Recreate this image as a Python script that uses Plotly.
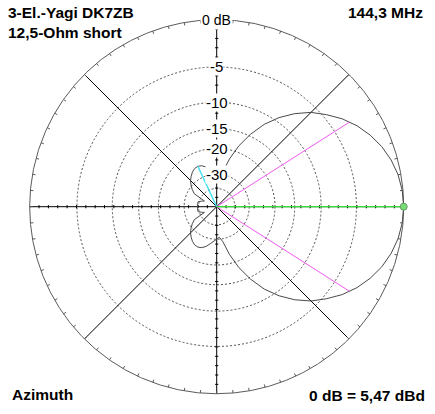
import numpy as np
import plotly.graph_objects as go

# ---------------- data ----------------
title_line1 = "3-El.-Yagi DK7ZB"
title_line2 = "12,5-Ohm short"
freq_label = "144,3 MHz"
plot_type = "Azimuth"
ref_label = "0 dB = 5,47 dBd"

# azimuth pattern (upper half, pattern is symmetric about 0/180 deg)
azimuth_deg = [0, 5, 10, 15, 20, 25, 30, 35, 40, 45, 50, 55, 60, 65, 70, 75, 80, 85,
               90, 95, 100, 105, 110, 115, 120, 125, 130, 135, 140, 145, 150, 155,
               160, 165, 170, 175, 180]
gain_db = [0.0, -0.07, -0.26, -0.6, -1.07, -1.7, -2.47, -3.42, -4.58, -5.8, -7.4, -9.3,
           -11.6, -14.6, -18.2, -22.8, -28.5, -31.0, -30.0, -29.0, -27.5, -26.0, -25.0,
           -24.6, -24.8, -25.5, -26.6, -27.8, -29.5, -31.5, -34.0, -45.0, -42.0, -39.0,
           -39.0, -39.0, -39.0]

ring_db = [-5, -10, -15, -20, -30, -40]
ring_labels = {-5: "-5", -10: "-10", -15: "-15", -20: "-20", -30: "-30"}
top_label = "0 dB"

peak_deg, peak_db = 0, 0.0
halfpower_deg, halfpower_db = 32.5, -3.0
backlobe_deg, backlobe_db = 115, -24.6


def arrl(db):
    """ARRL log scale: 0.89 per 2 dB"""
    return 0.89 ** (-np.asarray(db, dtype=float) / 2.0)


def xy(theta_deg, r):
    t = np.radians(np.asarray(theta_deg, dtype=float))
    r = np.asarray(r, dtype=float)
    return r * np.cos(t), r * np.sin(t)


# ---------------- geometry of the page ----------------
W, H = 435, 414
CX, CY, RPX = 216.7, 206.7, 187.0
GRAY = "#5a5a5a"
FONT = "Liberation Sans, Arial, sans-serif"

fig = go.Figure()

# dotted rings
for db in ring_db:
    r = float(arrl(db))
    fig.add_shape(type="circle", xref="x", yref="y", x0=-r, y0=-r, x1=r, y1=r,
                  line=dict(color="#505050", width=1, dash="2px,2px"), layer="below")

# spokes (diagonals) and main axes
for ang in [45, 135, 225, 315]:
    x1, y1 = xy(ang, 1.0)
    fig.add_trace(go.Scatter(x=[0, x1], y=[0, y1], mode="lines",
                             line=dict(color="black", width=1), hoverinfo="skip"))
fig.add_trace(go.Scatter(x=[-1, 1], y=[0, 0], mode="lines",
                         line=dict(color="black", width=1), hoverinfo="skip"))
fig.add_trace(go.Scatter(x=[0, 0], y=[-1, 1], mode="lines",
                         line=dict(color="black", width=1), hoverinfo="skip"))

# small ticks along the axes (every 5 % of radius)
tick_half = 1.6 / RPX
tx, ty = [], []
for k in range(1, 20):
    r = k * 0.05
    for s in (1, -1):
        tx += [s * r, s * r, None]
        ty += [-tick_half, tick_half, None]
        tx += [-tick_half, tick_half, None]
        ty += [s * r, s * r, None]
fig.add_trace(go.Scatter(x=tx, y=ty, mode="lines", line=dict(color="black", width=1),
                         hoverinfo="skip"))

# outer circle with 5-degree ticks
circ_t = np.linspace(0, 360, 721)
ox, oy = xy(circ_t, 1.0)
fig.add_trace(go.Scatter(x=ox, y=oy, mode="lines", line=dict(color=GRAY, width=1),
                         hoverinfo="skip"))
otx, oty = [], []
for ang in range(0, 360, 5):
    xa, ya = xy(ang, 1.0)
    xb, yb = xy(ang, 1.0 - 3.0 / RPX)
    otx += [float(xa), float(xb), None]
    oty += [float(ya), float(yb), None]
fig.add_trace(go.Scatter(x=otx, y=oty, mode="lines", line=dict(color=GRAY, width=1),
                         hoverinfo="skip"))

# radiation pattern (mirror of upper half)
theta_full = azimuth_deg + [360 - a for a in azimuth_deg[-2:0:-1]] + [azimuth_deg[0]]
gain_full = gain_db + gain_db[-2:0:-1] + [gain_db[0]]
px, py = xy(theta_full, arrl(gain_full))
fig.add_trace(go.Scatter(x=px, y=py, mode="lines", line=dict(color="#4a4a4a", width=1),
                         hoverinfo="skip"))

# half-power lines
for a in (halfpower_deg, -halfpower_deg):
    hx, hy = xy(a, arrl(halfpower_db))
    fig.add_trace(go.Scatter(x=[0, hx], y=[0, hy], mode="lines",
                             line=dict(color="#f05af0", width=1), hoverinfo="skip"))
# back lobe line
bx, by = xy(backlobe_deg, arrl(backlobe_db))
fig.add_trace(go.Scatter(x=[0, bx], y=[0, by], mode="lines",
                         line=dict(color="#44e0f0", width=1.5), hoverinfo="skip"))
# peak line and marker
mx, my = xy(peak_deg, arrl(peak_db))
fig.add_trace(go.Scatter(x=[0, mx], y=[0, my], mode="lines",
                         line=dict(color="#33dd33", width=1.2), hoverinfo="skip"))
fig.add_trace(go.Scatter(x=[mx], y=[my], mode="markers",
                         marker=dict(symbol="circle", size=7, color="#77dd77",
                                     line=dict(color="#669966", width=1)),
                         hoverinfo="skip"))

annotations = []
# ring labels
for db, lab in ring_labels.items():
    annotations.append(dict(x=0, y=float(arrl(db)), xref="x", yref="y", text=lab,
                            showarrow=False, xanchor="center", yanchor="middle",
                            bgcolor="white", borderpad=0,
                            font=dict(family=FONT, size=15, color="black")))
annotations.append(dict(x=0, y=1.0, xref="x", yref="y", text=top_label,
                        showarrow=False, xanchor="center", yanchor="middle",
                        bgcolor="white", borderpad=1,
                        font=dict(family=FONT, size=14, color="black")))


def pxa(x, y, text, xanchor):
    return dict(x=x / W, y=1 - y / H, xref="paper", yref="paper", text="<b>%s</b>" % text,
                showarrow=False, xanchor=xanchor, yanchor="middle",
                font=dict(family=FONT, size=15.5, color="black"))


annotations += [
    pxa(6, 12.5, title_line1, "left"),
    pxa(6, 32, title_line2, "left"),
    pxa(425, 12.5, freq_label, "right"),
    pxa(10, 394, plot_type, "left"),
    pxa(427, 395.5, ref_label, "right"),
]

fig.update_layout(
    width=W, height=H, autosize=False,
    margin=dict(l=0, r=0, t=0, b=0),
    paper_bgcolor="white", plot_bgcolor="white",
    showlegend=False,
    xaxis=dict(range=[-CX / RPX, (W - CX) / RPX], visible=False, fixedrange=True),
    yaxis=dict(range=[-(H - CY) / RPX, CY / RPX], visible=False, fixedrange=True),
    annotations=annotations,
)

fig.write_html("out.html", config={"displayModeBar": False},
               post_script="document.body.style.margin='0px';"
                           "document.body.style.overflow='hidden';")
